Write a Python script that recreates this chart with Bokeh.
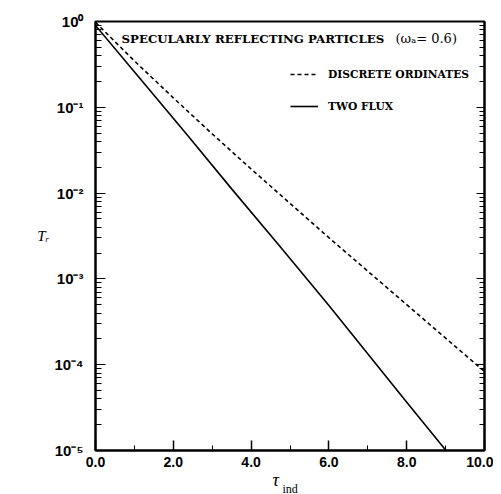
from bokeh.plotting import figure
from bokeh.models import (LogAxis, SingleIntervalTicker, LogTicker, PrintfTickFormatter,
                          CustomJSTickFormatter, Label, Legend, LegendItem, ColumnDataSource,
                          Title, Axis)
from bokeh.embed import file_html
from bokeh.resources import INLINE

# ---- data ----
tau_do = [0.0, 1.0, 2.0, 3.0, 4.0, 5.0, 6.0, 7.0, 8.0, 9.0, 10.0]
T_do = [0.977, 0.347, 0.129, 0.049, 0.0191, 0.00759, 0.00302, 0.00123, 0.000501, 0.000204, 0.0000832]

tau_tf = [0.0, 1.23, 2.37, 3.5, 4.76, 6.0, 7.97, 9.01]
T_tf = [0.90, 0.195, 0.047, 0.0112, 0.00234, 0.00049, 0.000038, 0.00001]

x_ticks = [0.0, 2.0, 4.0, 6.0, 8.0, 10.0]
y_ticks = [1e-5, 1e-4, 1e-3, 1e-2, 1e-1, 1.0]

title_bold = "SPECULARLY REFLECTING PARTICLES"
title_param = "(ωₐ= 0.6)"
series_names = ["DISCRETE ORDINATES", "TWO FLUX"]

p = figure(width=493, height=494, x_range=(0, 10), y_range=(1e-5, 1),
           y_axis_type="log", output_backend="svg", toolbar_location=None,
           min_border_left=95, min_border_right=9, min_border_top=21, min_border_bottom=44)
p.background_fill_color = "white"
p.border_fill_color = "white"
p.outline_line_color = "black"
p.outline_line_width = 2
p.xgrid.visible = False
p.ygrid.visible = False

src_do = ColumnDataSource(dict(x=tau_do, y=T_do))
src_tf = ColumnDataSource(dict(x=tau_tf, y=T_tf))
r_do = p.line("x", "y", source=src_do, line_color="black", line_width=1.6, line_dash="4 3")
r_tf = p.line("x", "y", source=src_tf, line_color="black", line_width=1.6)

# x axis
xa = p.xaxis[0]
xa.ticker = SingleIntervalTicker(interval=2, num_minor_ticks=2)
xa.formatter = PrintfTickFormatter(format="%.1f")
xa.axis_line_width = 2
xa.major_tick_in = 10
xa.major_tick_out = 0
xa.minor_tick_in = 5
xa.minor_tick_out = 0
xa.major_tick_line_width = 1.5
xa.major_label_text_font = "Liberation Sans"
xa.major_label_text_font_size = "14px"
xa.major_label_text_font_style = "bold"
xa.major_label_text_color = "black"
xa.major_label_standoff = 6

sup_code = """
const sup = {"-":"\u207b","0":"\u2070","1":"\u00b9","2":"\u00b2","3":"\u00b3","4":"\u2074","5":"\u2075","6":"\u2076","7":"\u2077","8":"\u2078","9":"\u2079"};
const e = Math.round(Math.log10(tick));
return "10" + String(e).split("").map(c => sup[c]).join("");
"""

ya = p.yaxis[0]
ya.ticker = LogTicker(num_minor_ticks=10)
ya.formatter = CustomJSTickFormatter(code=sup_code)
ya.axis_line_width = 2
ya.major_tick_in = 10
ya.major_tick_out = 0
ya.minor_tick_in = 6
ya.minor_tick_out = 0
ya.major_label_text_font = "Liberation Sans"
ya.major_label_text_font_size = "15px"
ya.major_label_text_font_style = "bold"
ya.major_label_text_color = "black"
ya.major_label_standoff = 12
ya.axis_label = "Tᵣ"
ya.axis_label_text_font = "Liberation Serif"
ya.axis_label_text_font_style = "italic"
ya.axis_label_text_font_size = "15px"
ya.axis_label_text_color = "black"
ya.axis_label_standoff = 2
if "axis_label_orientation" in Axis.properties():
    ya.axis_label_orientation = "horizontal"

ra = LogAxis(ticker=LogTicker(num_minor_ticks=10),
             formatter=CustomJSTickFormatter(code="return '';"))
ra.axis_line_width = 2
ra.major_tick_in = 8
ra.major_tick_out = 0
ra.minor_tick_in = 5
ra.minor_tick_out = 0
ra.major_label_text_font_size = "1px"
p.add_layout(ra, "right")

legend = Legend(items=[LegendItem(label=series_names[0], renderers=[r_do]),
                       LegendItem(label=series_names[1], renderers=[r_tf])],
                location=(195, 334), border_line_alpha=0, background_fill_alpha=0,
                label_text_font="DejaVu Serif", label_text_font_style="bold",
                label_text_font_size="10.7px", label_text_color="black",
                glyph_width=28, glyph_height=20,
                label_height=20, spacing=12, padding=0, margin=0, label_standoff=10)
p.add_layout(legend, "center")

p.add_layout(Label(x=26, y=412, x_units="screen", y_units="screen", text=title_bold,
                   text_font="DejaVu Serif", text_font_style="bold", text_color="black",
                   text_font_size="11.8px", text_baseline="middle"))
p.add_layout(Label(x=300, y=412, x_units="screen", y_units="screen", text=title_param,
                   text_font="DejaVu Serif", text_font_size="13px", text_color="black",
                   text_baseline="middle"))

# x axis title: tau with subscript "ind"
p.add_layout(Title(text="τ", align="left", offset=177, standoff=0, vertical_align="top",
                   text_font="Liberation Serif", text_font_style="italic",
                   text_color="black", text_font_size="18px"), "below")
p.add_layout(Title(text="ind", align="left", offset=187, standoff=-20, vertical_align="top",
                   text_font="Liberation Serif", text_font_style="normal",
                   text_color="black", text_font_size="12px"), "below")

open("out.html", "w").write(file_html(p, INLINE))
